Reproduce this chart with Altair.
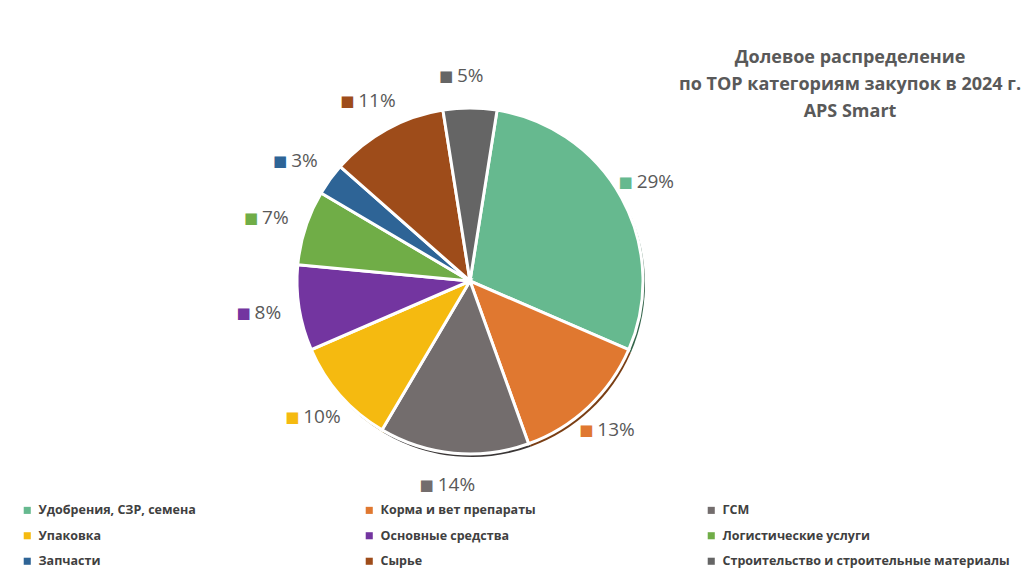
import math
import altair as alt
import pandas as pd

categories = [
    "Удобрения, СЗР, семена",
    "Корма и вет препараты",
    "ГСМ",
    "Упаковка",
    "Основные средства",
    "Логистические услуги",
    "Запчасти",
    "Сырье",
    "Строительство и строительные материалы",
]
values = [29, 13, 14, 10, 8, 7, 3, 11, 5]
labels = [f"{v}%" for v in values]

colors = ["#66B98F", "#E07830", "#736D6D", "#F5BA10", "#7335A0",
          "#70AD47", "#2E6496", "#9E4C1A", "#656565"]
shadow_colors = ["#33644A", "#7A3E14", "#3A3636", "#8A6A06", "#3C1A56",
                 "#3C6224", "#163450", "#4E240A", "#333333"]

title_lines = ["Долевое распределение", "по TOP категориям закупок в 2024 г.", "APS Smart"]

df = pd.DataFrame({
    "category": categories,
    "value": values,
    "label": labels,
    "idx": list(range(len(categories))),
})

start = math.radians(9)
theta = alt.Theta("value:Q", stack=True,
                  scale=alt.Scale(range=[start, start + 2 * math.pi]))
order = alt.Order("idx:Q")
color = alt.Color(
    "category:N",
    scale=alt.Scale(domain=categories, range=colors),
    sort=categories,
    legend=alt.Legend(
        orient="none", legendX=21, legendY=504, columns=3, title=None,
        direction="horizontal",
        symbolType="square", symbolSize=50, symbolStrokeWidth=0,
        labelFont="Open Sans", labelFontSize=12.5, labelFontWeight="bold",
        labelColor="#404040", labelOffset=5, gridAlign="all",
        columnPadding=37, rowPadding=12.5, labelLimit=400,
    ),
)

base = alt.Chart(df)

shadow = base.transform_calculate(shade="datum.category").mark_arc(
    radius=173, xOffset=2, yOffset=3
).encode(
    theta=theta,
    fill=alt.Fill("shade:N", scale=alt.Scale(domain=categories, range=shadow_colors), legend=None),
    order=order,
)

pie = base.mark_arc(radius=173, stroke="white", strokeWidth=3).encode(
    theta=theta, color=color, order=order,
)

squares = base.mark_text(radius=205, dx=-24, align="center", baseline="middle",
                         font="DejaVu Sans", fontSize=15).encode(
    theta=theta, color=color,
    order=order, text=alt.value("■"), detail="category:N",
)

texts = base.mark_text(radius=205, dx=-13, align="left", baseline="middle",
                       font="Open Sans", fontSize=19, color="#595959").encode(
    theta=theta, text="label:N", order=order, detail="category:N",
)

chart = alt.layer(shadow, pie, squares, texts).resolve_scale(fill="independent").properties(
    width=940, height=562,
    autosize=alt.AutoSizeParams(type="none"),
    padding={"left": 0, "top": 0, "right": 84, "bottom": 18},
    title=alt.TitleParams(
        text=title_lines, anchor="middle", frame="group", dx=380, dy=121,
        baseline="top", offset=0, font="Open Sans", fontSize=18,
        fontWeight="bold", color="#595959", lineHeight=27,
    ),
).configure_view(stroke=None).configure(background="white")

chart.save("out.html", embed_options={"renderer": "svg", "actions": False})
